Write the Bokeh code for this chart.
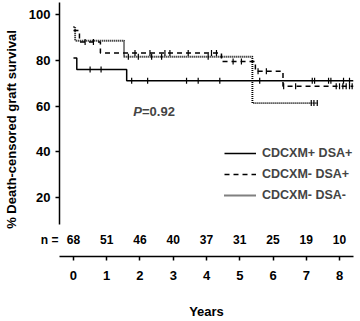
import numpy as np
from bokeh.plotting import figure
from bokeh.models import Range1d, FixedTicker, Label, Legend, LegendItem, ColumnDataSource, LinearAxis
from bokeh.core.properties import value
from bokeh.embed import file_html
from bokeh.resources import INLINE

# ---- data ----
years = [0, 1, 2, 3, 4, 5, 6, 7, 8]
n_at_risk = [68, 51, 46, 40, 37, 31, 25, 19, 10]
y_ticks = [20, 40, 60, 80, 100]

# CDCXM+ DSA+ (solid)
pp_time = [0.0, 0.1, 1.6, 8.42]
pp_surv = [81, 76, 71, 71]
pp_cens = [0.5, 0.83, 1.75, 2.23, 3.4, 3.75, 4.4, 5.6, 7.18, 7.25, 7.67, 7.74, 8.12, 8.3]

# CDCXM- DSA+ (dashed)
np_time = [0.0, 0.18, 0.81, 4.45, 5.47, 6.3, 8.42]
np_surv = [93, 88, 83.2, 79.5, 75.2, 68.6, 68.6]
np_cens = [0.35, 0.6, 1.85, 2.3, 2.75, 2.9, 3.45, 4.15, 4.3, 4.8, 5.05, 5.55, 5.8,
           6.32, 6.68, 7.9, 8.0, 8.1, 8.2, 8.3, 8.38]

# CDCXM- DSA- (dotted)
nn_time = [0.0, 0.05, 1.52, 5.38, 7.35]
nn_surv = [94.5, 88.5, 81.5, 61.3, 61.3]
nn_cens = [1.65, 1.95, 2.35, 2.65, 4.05, 7.15, 7.23, 7.33]

labels = ["CDCXM+ DSA+", "CDCXM- DSA+", "CDCXM- DSA-"]
p_value_text = "=0.92"
n_row_label = "n ="
y_title = "% Death-censored graft survival"
x_title = "Years"

N_ROW_Y = 1.74  # vertical position of the numbers-at-risk row (data units)


def surv_at(times, surv, t):
    idx = np.searchsorted(np.array(times), t, side="right") - 1
    return [surv[i] for i in idx]


FONT = "Liberation Sans"

p = figure(width=360, height=321, output_backend="svg", toolbar_location=None,
           x_range=Range1d(-0.42, 8.42), y_range=Range1d(-5.65, 105.2),
           min_border_left=59, min_border_right=7, min_border_top=2, min_border_bottom=64)
p.outline_line_color = None
p.xgrid.visible = False
p.ygrid.visible = False
p.background_fill_color = "white"
p.border_fill_color = "white"


def style_axis(ax):
    ax.axis_line_color = "black"
    ax.axis_line_width = 1.5
    ax.major_tick_line_color = "black"
    ax.major_tick_line_width = 1.5
    ax.major_tick_out = 4
    ax.major_tick_in = 0
    ax.minor_tick_line_color = None
    ax.major_label_text_font = FONT
    ax.major_label_text_font_style = "bold"
    ax.major_label_text_font_size = "13px"
    ax.major_label_text_color = "black"
    ax.axis_label_text_font = FONT
    ax.axis_label_text_font_style = "bold"
    ax.axis_label_text_font_size = "13px"
    ax.axis_label_text_color = "black"


style_axis(p.xaxis[0])
style_axis(p.yaxis[0])

p.xaxis.ticker = FixedTicker(ticks=years)
p.xaxis.major_label_standoff = 10
p.xaxis.axis_label = x_title
p.xaxis.axis_label_standoff = 21

p.yaxis.ticker = FixedTicker(ticks=y_ticks)
p.yaxis.bounds = (8.3, 105.2)
p.yaxis.major_label_standoff = 5

# outer left axis: carries the "n =" row label and the y title
n_axis = LinearAxis(ticker=FixedTicker(ticks=[N_ROW_Y]),
                    major_label_overrides={N_ROW_Y: n_row_label})
style_axis(n_axis)
n_axis.axis_line_color = None
n_axis.major_tick_line_color = None
n_axis.major_tick_out = 0
n_axis.major_label_text_font_size = "12px"
n_axis.major_label_standoff = -33
n_axis.axis_label = y_title
n_axis.axis_label_standoff = 19
p.add_layout(n_axis, "left")

# curves
styles = [dict(line_dash="solid", line_width=1.5),
          dict(line_dash="5 4", line_width=1.5),
          dict(line_dash="1 1", line_width=1.9)]
series = [(pp_time, pp_surv, pp_cens), (np_time, np_surv, np_cens), (nn_time, nn_surv, nn_cens)]
renderers = []
for (t, s, c), st in zip(series, styles):
    r = p.step(t, s, mode="after", line_color="black", **st)
    renderers.append(r)
    p.scatter(c, surv_at(t, s, c), marker="dash", angle=np.pi / 2, size=6,
              line_color="black", line_width=1.2)

legend = Legend(items=[LegendItem(label=lab, renderers=[r]) for lab, r in zip(labels, renderers)],
                location=(165, 51), padding=0, margin=0, spacing=1,
                glyph_width=32, glyph_height=20, label_height=20, label_standoff=6,
                label_text_font=FONT, label_text_font_style="bold",
                label_text_font_size="12.5px", border_line_color=None,
                background_fill_alpha=0)
p.add_layout(legend)

# numbers at risk
src = ColumnDataSource(dict(x=years, y=[N_ROW_Y] * len(years), t=[str(n) for n in n_at_risk]))
p.text(x="x", y="y", text="t", source=src, text_align="center", text_baseline="middle",
       text_font=value(FONT), text_font_style="bold", text_font_size="12px", text_color="black")

# P value
p.add_layout(Label(x=1.8, y=57.8, text="P", text_align="left", text_baseline="middle",
                   text_font=FONT, text_font_style="bold italic", text_font_size="13px"))
p.add_layout(Label(x=2.06, y=57.8, text=p_value_text, text_align="left", text_baseline="middle",
                   text_font=FONT, text_font_style="bold", text_font_size="13px"))

open("out.html", "w").write(file_html(p, INLINE))
